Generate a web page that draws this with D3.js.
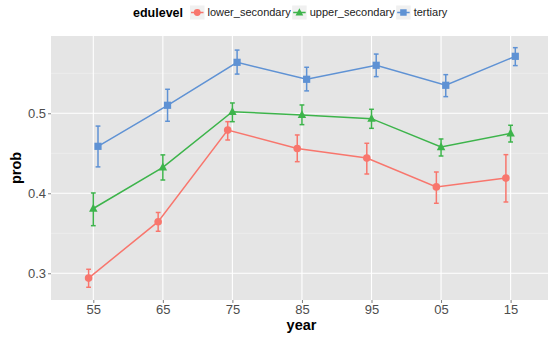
<!DOCTYPE html>
<html>
<head>
<meta charset="utf-8">
<script src="https://cdn.jsdelivr.net/npm/d3@7"></script>
<style>
  body { margin: 0; background: #fff; }
  text { font-family: "Liberation Sans", Arial, sans-serif; }
</style>
</head>
<body>
<div id="chart"></div>
<script>
var years = ["55", "65", "75", "85", "95", "05", "15"];
var groups = ["lower_secondary", "upper_secondary", "tertiary"];
var colors = ["#F8766D", "#3DB44B", "#5F92D4"];

var lowerProb = [0.294, 0.3645, 0.479, 0.456, 0.444, 0.408, 0.419];
var lowerLo = [0.2825, 0.3525, 0.4666, 0.4395, 0.4241, 0.3875, 0.3891];
var lowerHi = [0.305, 0.376, 0.4895, 0.4729, 0.4625, 0.4266, 0.4483];

var upperProb = [0.381, 0.4325, 0.502, 0.498, 0.4933, 0.4579, 0.475];
var upperLo = [0.3595, 0.4166, 0.4895, 0.4858, 0.4812, 0.4466, 0.4641];
var upperHi = [0.4004, 0.448, 0.5129, 0.5104, 0.505, 0.4679, 0.485];

var tertProb = [0.4587, 0.510, 0.5637, 0.5425, 0.560, 0.535, 0.5712];
var tertLo = [0.433, 0.490, 0.549, 0.528, 0.5458, 0.5208, 0.5596];
var tertHi = [0.484, 0.530, 0.579, 0.5575, 0.574, 0.5483, 0.582];

var yTicks = [0.3, 0.4, 0.5];
var yMinor = [0.35, 0.45, 0.55];

var series = [
    {name: groups[0], p: lowerProb, lo: lowerLo, hi: lowerHi},
    {name: groups[1], p: upperProb, lo: upperLo, hi: upperHi},
    {name: groups[2], p: tertProb, lo: tertLo, hi: tertHi}
];

var W = 548, H = 340;
var panel = {left: 51, right: 548, top: 36, bottom: 300};

var svg = d3.select("#chart").append("svg").attr("width", W).attr("height", H);

var x = d3.scalePoint().domain(years).range([93.3, 510.6]);
var dodge = d3.scalePoint().domain(groups).range([-4.7, 4.7]);
var y = d3.scaleLinear().domain([0.2666, 0.5966]).range([panel.bottom, panel.top]);
var color = d3.scaleOrdinal().domain(groups).range(colors);

// panel
svg.append("rect").attr("x", panel.left).attr("y", panel.top).attr("width", panel.right - panel.left).attr("height", panel.bottom - panel.top).attr("fill", "#E5E5E5");

svg.selectAll(".minor").data(yMinor).enter().append("line").attr("class", "minor")
    .attr("x1", panel.left).attr("x2", panel.right).attr("y1", d => y(d)).attr("y2", d => y(d))
    .attr("stroke", "#F2F2F2").attr("stroke-width", 0.6);
svg.selectAll(".hmajor").data(yTicks).enter().append("line").attr("class", "hmajor")
    .attr("x1", panel.left).attr("x2", panel.right).attr("y1", d => y(d)).attr("y2", d => y(d))
    .attr("stroke", "#fff").attr("stroke-width", 1.1);
svg.selectAll(".vmajor").data(years).enter().append("line").attr("class", "vmajor")
    .attr("x1", d => x(d)).attr("x2", d => x(d)).attr("y1", panel.top).attr("y2", panel.bottom)
    .attr("stroke", "#fff").attr("stroke-width", 1.1);

// axes
var xAxis = svg.append("g").attr("transform", "translate(0," + panel.bottom + ")")
    .call(d3.axisBottom(x).tickSize(3).tickPadding(2));
var yAxis = svg.append("g").attr("transform", "translate(" + panel.left + ",0)")
    .call(d3.axisLeft(y).tickValues(yTicks).tickFormat(d3.format(".1f")).tickSize(3).tickPadding(2));
[xAxis, yAxis].forEach(a => {
    a.select(".domain").remove();
    a.selectAll(".tick line").attr("stroke", "#7F7F7F");
    a.selectAll(".tick text").attr("fill", "#4D4D4D").style("font-size", "13px").style("font-family", "'Liberation Sans', Arial, sans-serif");
});

svg.append("text").attr("x", 301.5).attr("y", 330).attr("text-anchor", "middle")
    .style("font-size", "14.5px").style("font-weight", "bold").text("year");
svg.append("text").attr("transform", "translate(21," + ((panel.top + panel.bottom) / 2) + ") rotate(-90)")
    .attr("text-anchor", "middle").style("font-size", "14.5px").style("font-weight", "bold").text("prob");

// markers
function marker(g, name, cx, cy, s) {
    var c = color(name);
    if (name === groups[0]) {
        g.append("circle").attr("cx", cx).attr("cy", cy).attr("r", 3.8 * s).attr("fill", c);
    } else if (name === groups[1]) {
        var h = 8.5 * s;
        g.append("path").attr("d", d3.line()([[cx - h / 2, cy + h * 0.38], [cx + h / 2, cy + h * 0.38], [cx, cy - h * 0.55]])).attr("fill", c);
    } else {
        var a = 7.2 * s;
        g.append("rect").attr("x", cx - a / 2).attr("y", cy - a / 2).attr("width", a).attr("height", a).attr("fill", c);
    }
}

var line = d3.line().x(d => d.x).y(d => d.y);

series.forEach(s => {
    var pts = years.map((yr, i) => ({x: x(yr) + dodge(s.name), y: y(s.p[i]), lo: y(s.lo[i]), hi: y(s.hi[i])}));
    var g = svg.append("g");
    g.append("path").datum(pts).attr("fill", "none").attr("stroke", color(s.name)).attr("stroke-width", 1.5).attr("d", line);
    pts.forEach(p => {
        g.append("line").attr("x1", p.x).attr("x2", p.x).attr("y1", p.lo).attr("y2", p.hi).attr("stroke", color(s.name)).attr("stroke-width", 1.5);
        g.append("line").attr("x1", p.x - 2.4).attr("x2", p.x + 2.4).attr("y1", p.lo).attr("y2", p.lo).attr("stroke", color(s.name)).attr("stroke-width", 1.5);
        g.append("line").attr("x1", p.x - 2.4).attr("x2", p.x + 2.4).attr("y1", p.hi).attr("y2", p.hi).attr("stroke", color(s.name)).attr("stroke-width", 1.5);
        marker(g, s.name, p.x, p.y, 1);
    });
});

// legend
var leg = svg.append("g");
leg.append("text").attr("x", 133).attr("y", 16.5).style("font-size", "12.5px").style("font-weight", "bold").text("edulevel");
var lx = 190;
groups.forEach(name => {
    leg.append("rect").attr("x", lx).attr("y", 5.5).attr("width", 14.5).attr("height", 14).attr("fill", "#F0F0F0");
    leg.append("line").attr("x1", lx + 1).attr("x2", lx + 13.5).attr("y1", 12.5).attr("y2", 12.5).attr("stroke", color(name)).attr("stroke-width", 1.5);
    marker(leg, name, lx + 7.25, 12.5, 0.9);
    var t = leg.append("text").attr("x", lx + 17.5).attr("y", 16.3).style("font-size", "11px").attr("fill", "#222").text(name);
    lx = lx + 17.5 + t.node().getComputedTextLength() + 1.5;
});
</script>
</body>
</html>
